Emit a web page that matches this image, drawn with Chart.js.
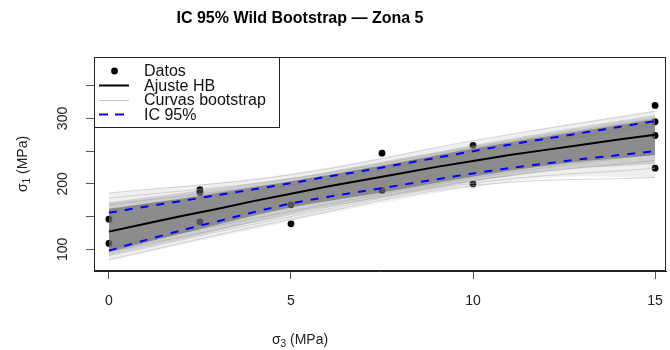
<!DOCTYPE html>
<html>
<head>
<meta charset="utf-8">
<script src="https://cdn.jsdelivr.net/npm/chart.js@4.4.1/dist/chart.umd.min.js"></script>
<style>
  html, body { margin: 0; padding: 0; background: #fff; }
  #wrap { width: 670px; height: 350px; }
</style>
</head>
<body>
<div id="wrap"><canvas id="chart" width="670" height="350"></canvas></div>
<script>
// ensayos triaxiales, zona 5
var sigma3 = [0, 0, 2.5, 2.5, 2.5, 5, 5, 7.5, 7.5, 10, 10, 15, 15, 15, 15];
var sigma1 = [146, 109, 191, 187, 142, 168, 139, 247, 190, 259, 200, 320, 295, 274, 224];

// ajuste Hoek-Brown e IC 95%
var gridX   = [0, 1, 2, 3, 4, 5, 6, 7, 8, 9, 10, 11, 12, 13, 14, 15];
var fitHB   = [127, 139, 151, 162, 174, 185, 196, 206, 216, 226, 235, 244, 252, 260, 268, 275];
var ciUpper = [156, 165, 174, 183, 192, 201, 211, 220, 230, 240, 250, 260, 269, 278, 287, 296];
var ciLower = [98, 114, 129, 143, 157, 170, 180, 189, 198, 207, 216, 224, 231, 238, 244, 250];

// nube de curvas bootstrap (envolventes)
var bandX       = [0, 2.5, 5, 7.5, 10, 12.5, 15];
var bootOuterHi = [186, 199, 216, 240, 265, 290, 312];
var bootMidHi   = [172, 190, 209, 234, 259, 283, 305];
var bootInnerHi = [162, 182, 204, 228, 254, 277, 299];
var bootInnerLo = [96, 131, 164, 187, 211, 231, 244];
var bootMidLo   = [91, 122, 154, 179, 203, 222, 230];
var bootOuterLo = [83, 113, 143, 171, 195, 211, 209];

// algunas curvas sueltas del borde
var curveX = [0, 5, 10, 15];
var bootCurves = [
  [186, 214, 266, 311],
  [178, 208, 256, 300],
  [168, 203, 250, 292],
  [84, 146, 197, 210],
  [90, 150, 201, 224],
  [96, 153, 205, 236],
  [160, 198, 247, 288],
  [103, 158, 209, 246]
];

var xTicks = [0, 5, 10, 15];
var yTicks = [100, 150, 200, 250, 300, 350];
var yLabels = [100, 200, 300];

var FONT = '"Liberation Sans", Arial, sans-serif';

function pts(xs, ys) {
  return xs.map(function(x, i) { return { x: x, y: ys[i] }; });
}

function band(ys, fillTo, color, order) {
  return {
    data: pts(bandX, ys),
    borderWidth: 0,
    pointRadius: 0,
    tension: 0.35,
    fill: fillTo === null ? false : fillTo,
    backgroundColor: color,
    order: order
  };
}

var datasets = [];
datasets.push({
  label: 'Datos',
  data: pts(sigma3, sigma1),
  showLine: false,
  pointRadius: 3.4,
  pointBackgroundColor: '#000',
  pointBorderWidth: 0,
  order: 20
});
datasets.push(band(bootOuterHi, 2, 'rgba(150,150,150,0.15)', 19));
datasets.push(band(bootOuterLo, null, 'transparent', 19));
datasets.push(band(bootMidHi, 4, 'rgba(130,130,130,0.3)', 17));
datasets.push(band(bootMidLo, null, 'transparent', 17));
datasets.push(band(bootInnerHi, 6, 'rgba(100,100,100,0.62)', 16));
datasets.push(band(bootInnerLo, null, 'transparent', 16));
bootCurves.forEach(function(c) {
  datasets.push({
    data: pts(curveX, c),
    borderColor: 'rgba(185,185,185,0.6)',
    borderWidth: 1,
    pointRadius: 0,
    tension: 0.4,
    fill: false,
    order: 18
  });
});
datasets.push({
  label: 'Ajuste HB',
  data: pts(gridX, fitHB),
  borderColor: '#000',
  borderWidth: 2,
  pointRadius: 0,
  fill: false,
  order: 3
});
[ciUpper, ciLower].forEach(function(ci) {
  datasets.push({
    label: 'IC 95%',
    data: pts(gridX, ci),
    borderColor: '#0000ff',
    borderWidth: 2,
    borderDash: [8, 8],
    pointRadius: 0,
    tension: 0.3,
    fill: false,
    order: 2
  });
});

// texto con subíndice: "σ" + sub + resto, centrado en (0,0)
function subText(ctx, main, sub, rest, size) {
  ctx.font = size + 'px ' + FONT;
  var w1 = ctx.measureText(main).width;
  var w3 = ctx.measureText(rest).width;
  ctx.font = Math.round(size * 0.72) + 'px ' + FONT;
  var w2 = ctx.measureText(sub).width;
  var x = -(w1 + w2 + w3) / 2;
  ctx.textAlign = 'left';
  ctx.textBaseline = 'middle';
  ctx.font = size + 'px ' + FONT;
  ctx.fillText(main, x, 0);
  ctx.font = Math.round(size * 0.72) + 'px ' + FONT;
  ctx.fillText(sub, x + w1, size * 0.3);
  ctx.font = size + 'px ' + FONT;
  ctx.fillText(rest, x + w1 + w2, 0);
}

var decor = {
  id: 'decor',
  afterDraw: function(chart) {
    var ctx = chart.ctx, a = chart.chartArea;
    var ys = chart.scales.y;
    ctx.save();

    // marco del gráfico
    ctx.strokeStyle = '#222';
    ctx.lineWidth = 1;
    ctx.strokeRect(a.left + 0.5, a.top + 0.5, a.right - a.left - 1, a.bottom - a.top - 1);

    // etiquetas del eje y (verticales)
    ctx.fillStyle = '#222';
    ctx.font = '14px ' + FONT;
    ctx.textAlign = 'center';
    ctx.textBaseline = 'middle';
    yLabels.forEach(function(v) {
      ctx.save();
      ctx.translate(63.5, ys.getPixelForValue(v));
      ctx.rotate(-Math.PI / 2);
      ctx.fillText(String(v), 0, 0);
      ctx.restore();
    });

    // título
    ctx.fillStyle = '#000';
    ctx.font = 'bold 16px ' + FONT;
    ctx.fillText('IC 95% Wild Bootstrap \u2014 Zona 5', 300, 19);

    // títulos de ejes
    ctx.fillStyle = '#222';
    ctx.save();
    ctx.translate(300, 340);
    subText(ctx, '\u03c3', '3', ' (MPa)', 14);
    ctx.restore();
    ctx.save();
    ctx.translate(23, (a.top + a.bottom) / 2);
    ctx.rotate(-Math.PI / 2);
    subText(ctx, '\u03c3', '1', ' (MPa)', 14);
    ctx.restore();

    // leyenda
    var lx = a.left, ly = a.top;
    ctx.fillStyle = '#fff';
    ctx.fillRect(lx + 1, ly + 1, 184, 69);
    ctx.strokeStyle = '#222';
    ctx.strokeRect(lx + 0.5, ly + 0.5, 185, 70);
    var rows = [ly + 14, ly + 28.5, ly + 43, ly + 57.5];
    var sx0 = lx + 5, sx1 = lx + 35, tx = lx + 50;

    ctx.fillStyle = '#000';
    ctx.beginPath();
    ctx.arc(lx + 20.5, rows[0], 3.4, 0, Math.PI * 2);
    ctx.fill();

    ctx.lineWidth = 2;
    ctx.strokeStyle = '#000';
    ctx.beginPath();
    ctx.moveTo(sx0, rows[1]); ctx.lineTo(sx1, rows[1]);
    ctx.stroke();

    ctx.lineWidth = 1;
    ctx.strokeStyle = '#c0c0c0';
    ctx.beginPath();
    ctx.moveTo(sx0, rows[2] + 0.5); ctx.lineTo(sx1, rows[2] + 0.5);
    ctx.stroke();

    ctx.lineWidth = 2;
    ctx.strokeStyle = '#0000ff';
    ctx.setLineDash([9, 7]);
    ctx.beginPath();
    ctx.moveTo(sx0, rows[3]); ctx.lineTo(sx1, rows[3]);
    ctx.stroke();
    ctx.setLineDash([]);

    ctx.fillStyle = '#111';
    ctx.font = '16px ' + FONT;
    ctx.textAlign = 'left';
    ctx.textBaseline = 'middle';
    ['Datos', 'Ajuste HB', 'Curvas bootstrap', 'IC 95%'].forEach(function(t, i) {
      ctx.fillText(t, tx, rows[i] + 1);
    });

    ctx.restore();
  }
};

new Chart(document.getElementById('chart'), {
  type: 'line',
  data: { datasets: datasets },
  plugins: [decor],
  options: {
    responsive: false,
    animation: false,
    events: [],
    layout: { padding: { top: 57, right: 2, left: 0, bottom: 0 } },
    plugins: {
      legend: { display: false },
      title: { display: false },
      tooltip: { enabled: false }
    },
    scales: {
      x: {
        type: 'linear',
        min: -0.41,
        max: 15.3,
        afterBuildTicks: function(s) { s.ticks = xTicks.map(function(v) { return { value: v }; }); },
        afterFit: function(s) { s.height = 79; s.paddingLeft = 0; s.paddingRight = 0; },
        grid: { drawOnChartArea: false, drawTicks: true, tickLength: 8, color: '#555' },
        border: { display: true, color: '#222' },
        ticks: { color: '#222', padding: 14, maxRotation: 0, font: { size: 14, family: FONT } }
      },
      y: {
        type: 'linear',
        min: 66.8,
        max: 394,
        afterBuildTicks: function(s) { s.ticks = yTicks.map(function(v) { return { value: v }; }); },
        afterFit: function(s) { s.width = 94; s.paddingTop = 0; s.paddingBottom = 0; },
        grid: { drawOnChartArea: false, drawTicks: true, tickLength: 8, color: '#555' },
        border: { display: true, color: '#222' },
        ticks: { display: false }
      }
    }
  }
});
</script>
</body>
</html>
